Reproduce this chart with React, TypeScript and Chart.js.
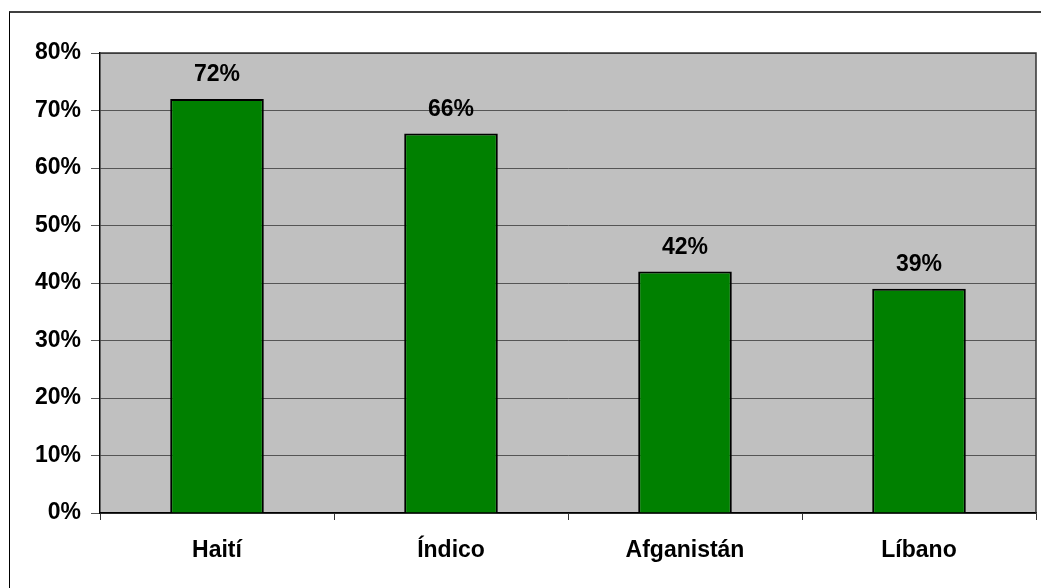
import React, { useEffect, useRef } from "react";
import { Chart, registerables } from "chart.js";

Chart.register(...registerables);

const categories = ["Haití", "Índico", "Afganistán", "Líbano"];
const values = [72, 66, 42, 39];
const yTicks = [0, 10, 20, 30, 40, 50, 60, 70, 80];

const FONT = "'Liberation Sans', Arial, sans-serif";
const FSIZE = 23;

export default function App() {
  const ref = useRef<HTMLCanvasElement | null>(null);

  useEffect(() => {
    if (!ref.current) return;
    const bgPlugin = {
      id: "plotBg",
      beforeDraw(chart: any) {
        const { ctx, chartArea: a } = chart;
        ctx.save();
        ctx.fillStyle = "#C0C0C0";
        ctx.fillRect(a.left, a.top, a.right - a.left, a.bottom - a.top);
        ctx.restore();
      },
      afterDraw(chart: any) {
        const { ctx, chartArea: a } = chart;
        ctx.save();
        ctx.strokeStyle = "#333333";
        ctx.lineWidth = 1.5;
        ctx.beginPath();
        ctx.moveTo(a.left, a.top);
        ctx.lineTo(a.right, a.top);
        ctx.lineTo(a.right, a.bottom);
        ctx.stroke();
        ctx.restore();
      },
    };
    const labelPlugin = {
      id: "valueLabels",
      afterDatasetsDraw(chart: any) {
        const { ctx } = chart;
        const meta = chart.getDatasetMeta(0);
        ctx.save();
        ctx.font = `bold ${FSIZE}px ${FONT}`;
        ctx.fillStyle = "#000";
        ctx.textAlign = "center";
        ctx.textBaseline = "alphabetic";
        meta.data.forEach((bar: any, i: number) => {
          ctx.fillText(`${values[i]}%`, bar.x, bar.y - 18);
        });
        ctx.restore();
      },
    };
    const chart = new Chart(ref.current, {
      type: "bar",
      data: {
        labels: categories,
        datasets: [
          {
            data: values,
            backgroundColor: "#008000",
            borderColor: "#000000",
            borderWidth: 2,
            barPercentage: 0.4,
            categoryPercentage: 1,
          },
        ],
      },
      options: {
        animation: false,
        responsive: false,
        maintainAspectRatio: false,
        layout: { padding: { left: 0, right: 5, top: 53, bottom: 0 } },
        plugins: {
          legend: { display: false },
          tooltip: { enabled: false },
        },
        scales: {
          x: {
            afterFit: (s: any) => {
              s.height = 75;
            },
            grid: {
              drawOnChartArea: false,
              drawTicks: true,
              tickLength: 7,
              color: "#333333",
              offset: true,
            },
            border: { display: true, color: "#000000", width: 1.5 },
            ticks: {
              color: "#000",
              padding: 17,
              font: { family: FONT, size: FSIZE, weight: "bold" },
            },
          },
          y: {
            min: 0,
            max: 80,
            afterFit: (s: any) => {
              s.width = 100;
            },
            afterBuildTicks: (s: any) => {
              s.ticks = yTicks.map((v) => ({ value: v }));
            },
            grid: {
              color: "#555555",
              lineWidth: 1,
              drawTicks: true,
              tickLength: 9,
              tickColor: "#555555",
            },
            border: { display: true, color: "#000000", width: 1.5 },
            ticks: {
              color: "#000",
              padding: 10,
              font: { family: FONT, size: FSIZE, weight: "bold" },
              callback: (v: any) => `${v}%`,
            },
          },
        },
      },
      plugins: [bgPlugin, labelPlugin],
    });
    return () => chart.destroy();
  }, []);

  return (
    <div
      style={{
        position: "fixed",
        left: 0,
        top: 0,
        width: 1041,
        height: 588,
        background: "#fff",
        overflow: "hidden",
      }}
    >
      <div
        style={{
          position: "absolute",
          left: 9,
          top: 11,
          width: 1100,
          height: 700,
          borderTop: "2px solid #404040",
          borderLeft: "1px solid #000",
        }}
      />
      <canvas
        ref={ref}
        width={1041}
        height={588}
        style={{ position: "absolute", left: 0, top: 0, width: 1041, height: 588 }}
      />
    </div>
  );
}
